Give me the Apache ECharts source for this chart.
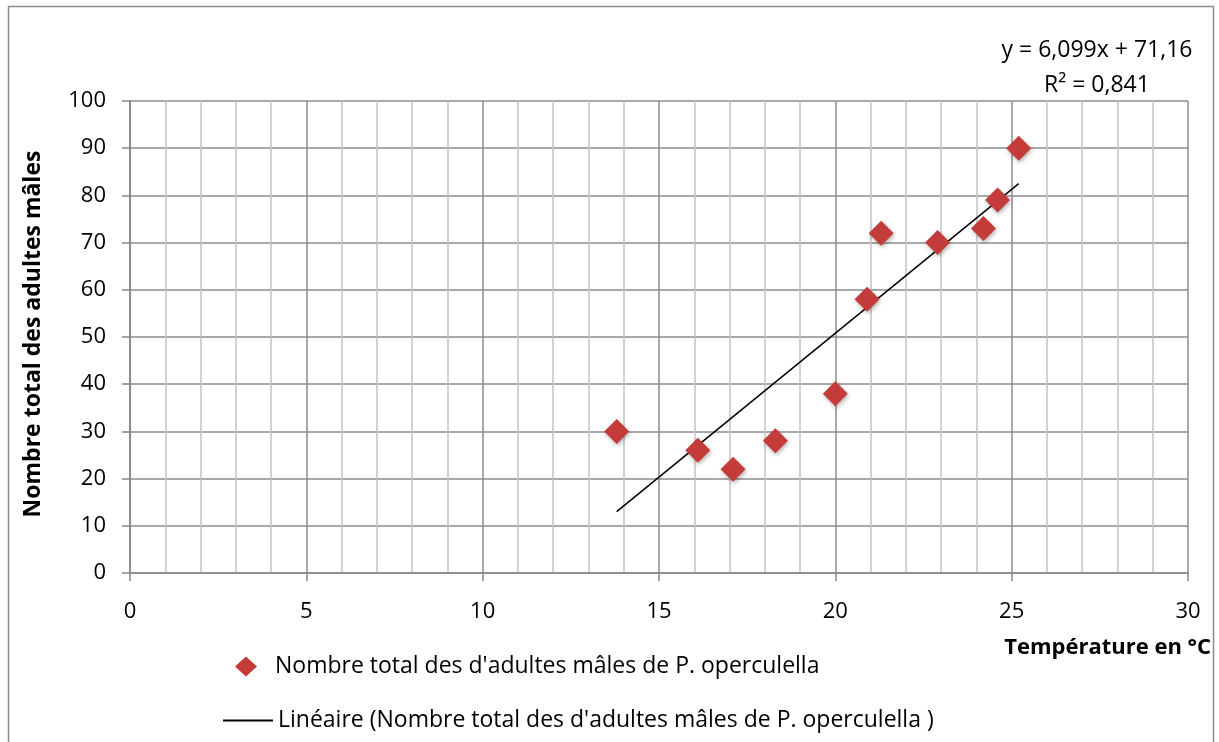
<!DOCTYPE html>
<html><head><meta charset="utf-8">
<script src="https://cdn.jsdelivr.net/npm/echarts@6/dist/echarts.min.js"></script>
<style>html,body{margin:0;padding:0;background:#fff}#c{width:1219px;height:742px}</style>
</head><body><div id="c"></div>
<script>
const temperature = [13.8, 16.1, 17.1, 18.3, 20.0, 20.9, 21.3, 22.9, 24.2, 24.6, 25.2];
const maleAdults = [30, 26, 22, 28, 38, 58, 72, 70, 73, 79, 90];
const trendX = [13.8, 25.2];
const trendY = [13.0, 82.5];
const seriesName = "Nombre total des d'adultes mâles de P. operculella";
const trendName = "Linéaire (Nombre total des d'adultes mâles de P. operculella )";
const xTitle = "Température en °C";
const yTitle = "Nombre total des adultes mâles";
const eqLines = ["y = 6,099x + 71,16", "R² = 0,841"];

const FONT = "'Open Sans', sans-serif";
const FS = 22;
const FL = 23;
const chart = echarts.init(document.getElementById('c'));
chart.setOption({
  backgroundColor: '#fff',
  animation: false,
  textStyle: {fontFamily: FONT},
  grid: {left: 130, right: 31, top: 101, bottom: 169},
  xAxis: {
    type: 'value', min: 0, max: 30, interval: 5,
    axisLine: {show: true, lineStyle: {color: '#868686', width: 1.5}},
    axisTick: {show: true, length: 8, lineStyle: {color: '#868686', width: 1.5}},
    axisLabel: {color: '#000', fontSize: FS, margin: 28, fontFamily: FONT},
    splitLine: {show: true, lineStyle: {color: '#8c8c8c', width: 1.5}},
    minorTick: {show: false, splitNumber: 5},
    minorSplitLine: {show: true, lineStyle: {color: '#c4c4c4', width: 1.5}}
  },
  yAxis: {
    type: 'value', min: 0, max: 100, interval: 10,
    axisLine: {show: true, lineStyle: {color: '#868686', width: 1.5}},
    axisTick: {show: true, length: 8, lineStyle: {color: '#868686', width: 1.5}},
    axisLabel: {color: '#000', fontSize: FS, margin: 24, fontFamily: FONT},
    splitLine: {show: true, lineStyle: {color: '#8c8c8c', width: 1.5}}
  },
  legend: [
    {left: 230, top: 650, itemWidth: 22, itemHeight: 20, data: [{name: seriesName, icon: 'diamond'}],
     textStyle: {fontSize: FL, color: '#000', padding: [0, 0, 0, 13], fontFamily: FONT}},
    {left: 218, top: 704, itemWidth: 50, itemHeight: 2, data: [{name: trendName, icon: 'rect'}],
     textStyle: {fontSize: FL, color: '#000', padding: [0, 0, 0, 0], fontFamily: FONT}}
  ],
  series: [
    {name: trendName, type: 'line', data: trendX.map((x, i) => [x, trendY[i]]),
     symbol: 'none', lineStyle: {color: '#000', width: 1.5}, itemStyle: {color: '#000'}, z: 3},
    {name: seriesName, type: 'scatter', data: temperature.map((x, i) => [x, maleAdults[i]]),
     symbol: 'diamond', symbolSize: [25, 25],
     itemStyle: {color: '#c43c39', opacity: 1, shadowBlur: 4, shadowColor: 'rgba(0,0,0,0.3)', shadowOffsetX: 1, shadowOffsetY: 2}, z: 4}
  ],
  graphic: [
    {type: 'rect', shape: {x: 8.5, y: 6.5, width: 1205, height: 760}, style: {fill: 'none', stroke: '#8c8c8c', lineWidth: 1.5}, silent: true},
    {type: 'text', x: 1097, y: 50, style: {text: eqLines[0], font: FL + 'px ' + FONT, fill: '#000', textAlign: 'center', textVerticalAlign: 'middle'}},
    {type: 'text', x: 1097, y: 85, style: {text: eqLines[1], font: FL + 'px ' + FONT, fill: '#000', textAlign: 'center', textVerticalAlign: 'middle'}},
    {type: 'text', x: 1211, y: 648, style: {text: xTitle, font: 'bold ' + FS + 'px ' + FONT, fill: '#000', textAlign: 'right', textVerticalAlign: 'middle'}},
    {type: 'text', x: 33, y: 334, rotation: Math.PI / 2, style: {text: yTitle, font: 'bold ' + FL + 'px ' + FONT, fill: '#000', textAlign: 'center', textVerticalAlign: 'middle'}}
  ]
});
</script></body></html>
